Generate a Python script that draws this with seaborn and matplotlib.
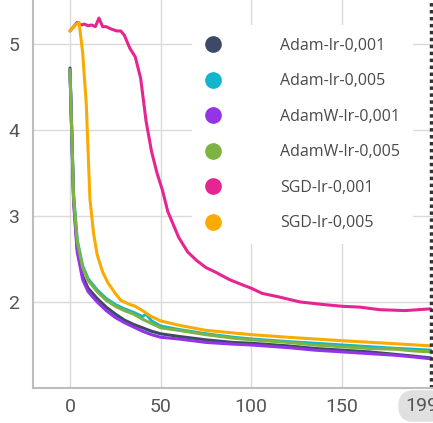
import numpy as np
import pandas as pd
import matplotlib
matplotlib.use("Agg")
import matplotlib.pyplot as plt
import seaborn as sns
from matplotlib.lines import Line2D

# runs and colours
runs = ["Adam-lr-0,001", "Adam-lr-0,005", "AdamW-lr-0,001",
        "AdamW-lr-0,005", "SGD-lr-0,001", "SGD-lr-0,005"]
colors = ["#3c4a66", "#12b5cb", "#9334e6", "#7cb342", "#e52592", "#f9ab00"]

# values (step, loss)
adam_001_x = [0, 2, 4, 7, 10, 15, 20, 25, 30, 35, 40, 45, 50, 60, 75, 90, 100, 120, 135, 150, 165, 180, 190, 199]
adam_001_y = [4.72, 3.2, 2.62, 2.3, 2.16, 2.04, 1.94, 1.86, 1.79, 1.74, 1.70, 1.66, 1.63, 1.6, 1.56, 1.53, 1.52, 1.49, 1.46, 1.44, 1.42, 1.39, 1.37, 1.35]

adam_005_x = [0, 2, 4, 7, 10, 15, 20, 25, 30, 35, 40, 42, 45, 50, 60, 75, 90, 100, 120, 135, 150, 165, 180, 190, 199]
adam_005_y = [4.7, 3.25, 2.72, 2.42, 2.27, 2.14, 2.04, 1.97, 1.92, 1.88, 1.83, 1.86, 1.78, 1.72, 1.68, 1.63, 1.59, 1.57, 1.54, 1.52, 1.5, 1.48, 1.46, 1.45, 1.44]

adamw_001_x = [0, 2, 4, 7, 10, 15, 20, 25, 30, 35, 40, 45, 50, 60, 75, 90, 100, 120, 135, 150, 165, 180, 190, 199]
adamw_001_y = [4.7, 3.15, 2.58, 2.26, 2.12, 2.0, 1.9, 1.82, 1.76, 1.71, 1.66, 1.62, 1.59, 1.57, 1.53, 1.51, 1.50, 1.47, 1.44, 1.42, 1.40, 1.38, 1.36, 1.34]

adamw_005_x = [0, 2, 4, 7, 10, 15, 20, 25, 30, 35, 40, 45, 50, 60, 75, 90, 100, 120, 135, 150, 165, 180, 190, 199]
adamw_005_y = [4.7, 3.2, 2.7, 2.4, 2.25, 2.12, 2.02, 1.95, 1.9, 1.86, 1.8, 1.75, 1.70, 1.67, 1.62, 1.58, 1.56, 1.53, 1.5, 1.48, 1.46, 1.45, 1.43, 1.42]

sgd_001_x = [0, 2, 4, 6, 8, 10, 12, 14, 16, 18, 20, 23, 26, 28, 30, 33, 36, 39, 42, 45, 48, 51, 54, 57, 60, 65,
             70, 75, 80, 88, 95, 100, 106, 115, 127, 140, 150, 160, 171, 185, 199]
sgd_001_y = [5.15, 5.2, 5.25, 5.22, 5.23, 5.21, 5.22, 5.2, 5.3, 5.2, 5.2, 5.17, 5.15, 5.15, 5.1, 4.95, 4.85, 4.6, 4.1,
             3.75, 3.5, 3.3, 3.05, 2.9, 2.75, 2.58, 2.48, 2.4, 2.35, 2.26, 2.2, 2.16, 2.1, 2.06, 2.0, 1.97, 1.95, 1.94,
             1.91, 1.9, 1.92]

sgd_005_x = [0, 3, 5, 7, 9, 11, 13, 15, 18, 21, 25, 28, 32, 36, 40, 45, 50, 60, 75, 90, 100, 120, 150, 175, 199]
sgd_005_y = [5.15, 5.22, 5.25, 4.9, 4.3, 3.2, 2.8, 2.55, 2.35, 2.22, 2.1, 2.02, 1.98, 1.95, 1.9, 1.83, 1.78, 1.73,
             1.67, 1.64, 1.62, 1.59, 1.55, 1.52, 1.49]

series = [(adam_001_x, adam_001_y), (adam_005_x, adam_005_y), (adamw_001_x, adamw_001_y),
          (adamw_005_x, adamw_005_y), (sgd_001_x, sgd_001_y), (sgd_005_x, sgd_005_y)]

last_step = 199

rows = []
for name, (xs, ys) in zip(runs, series):
    for x, y in zip(xs, ys):
        rows.append({"step": x, "loss": y, "run": name})
df = pd.DataFrame(rows)

sns.set_style("white")
plt.rcParams["font.family"] = ["Roboto", "DejaVu Sans"]

fig = plt.figure(figsize=(4.33, 4.23), dpi=100)
ax = fig.add_axes([33 / 433, 35 / 423, 400 / 433, 388 / 423])

sns.lineplot(data=df, x="step", y="loss", hue="run", hue_order=runs,
             palette=colors, linewidth=2.2, legend=False, ax=ax)

ax.set_xlim(-20.4, 200.3)
ax.set_ylim(1.0, 5.51)
ax.set_xticks([0, 50, 100, 150])
ax.set_yticks([2, 3, 4, 5])
ax.grid(True, color="#dadada", linewidth=1)
ax.set_xlabel("")
ax.set_ylabel("")
for s in ["top", "right"]:
    ax.spines[s].set_visible(False)
for s in ["left", "bottom"]:
    ax.spines[s].set_color("#bdbdbd")
    ax.spines[s].set_linewidth(1.5)
ax.tick_params(axis="both", length=0, labelsize=14, labelcolor="#555555")
ax.tick_params(axis="y", pad=10)
ax.tick_params(axis="x", pad=7)

# hover cursor at the last step, with its highlighted label
ax.axvline(last_step, color="#333333", linestyle=(0, (1, 1)), linewidth=2.5)
ax.annotate(str(last_step), xy=(last_step, 1.0), xycoords="data",
            xytext=(-6.5, -13), textcoords="offset points",
            ha="center", va="center", fontsize=14, color="#555555", annotation_clip=False,
            bbox=dict(boxstyle="round,pad=0.35,rounding_size=0.8", facecolor="#e0e0e0", edgecolor="none"))

handles = [Line2D([], [], marker="o", linestyle="none", markersize=11, color=c) for c in colors]
leg = ax.legend(handles, runs, loc="upper left", bbox_to_anchor=(0.3975, 0.9356),
                borderaxespad=0, frameon=True, labelcolor="#4a4a4a",
                prop={"family": ["Open Sans", "DejaVu Sans"], "size": 11.5},
                handlelength=1.0, handletextpad=3.7, labelspacing=1.22, borderpad=0.8)
leg.get_frame().set_facecolor("white")
leg.get_frame().set_edgecolor("none")
leg.get_frame().set_alpha(1)

plt.savefig("out.png", dpi=100)
